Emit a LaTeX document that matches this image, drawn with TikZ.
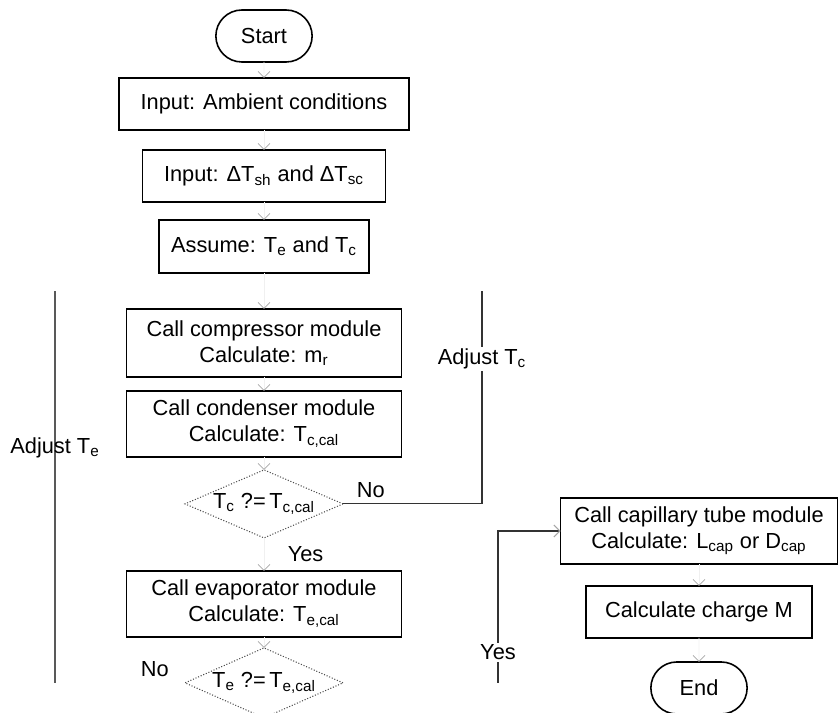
\documentclass[tikz,border=0pt]{standalone}
\usepackage{fontspec}
\setmainfont{Liberation Sans}
\usetikzlibrary{shapes,arrows.meta,positioning}
\tikzstyle{block} = [rectangle, draw, line width=1pt, align=center, outer sep=0pt,
    minimum width=5.5cm, minimum height=1.32cm, inner sep=2pt]
\tikzstyle{term} = [rounded rectangle, draw, line width=0.9pt, outer sep=0pt,
    minimum width=2.16cm, minimum height=1.04cm]
\tikzstyle{decision} = [diamond, draw=black!70, densely dotted, line width=0.6pt,
    aspect=2.3, inner sep=0pt, outer sep=0pt, minimum width=3.16cm, minimum height=1.36cm]
\tikzstyle{flow} = [draw=black!6, -{Straight Barb[color=black!35, length=1.2mm, width=2.4mm]}]
\tikzstyle{back} = [draw=black!80, line width=0.6pt]

\begin{document}
\begin{tikzpicture}[x=0.02cm, y=-0.02cm, node distance=0.3cm,
    font=\fontsize{12.4}{14.8}\selectfont]
    \useasboundingbox (0,0) rectangle (840,713);
    % Place nodes
    \node [term] (start) at (264,36) {Start};
    \node [block, below=0.32cm of start, minimum width=5.8cm, minimum height=1.04cm,
        line width=1.4pt] (ambient) {Input: Ambient conditions};
    \node [block, below=0.4cm of ambient, minimum width=4.86cm, minimum height=1.04cm]
        (deltas) {Input: ΔT\textsubscript{sh} and ΔT\textsubscript{sc}};
    \node [block, below=0.36cm of deltas, minimum width=4.2cm, minimum height=1.06cm]
        (assume) {Assume: T\textsubscript{e} and T\textsubscript{c}};
    \node [block, below=0.72cm of assume, minimum height=1.36cm] (compressor)
        {Call compressor module\\Calculate: m\textsubscript{r}};
    \node [block, below=0.28cm of compressor] (condenser)
        {Call condenser module\\Calculate: T\textsubscript{c,cal}};
    \node [decision, below=0.26cm of condenser] (checkc)
        {T\textsubscript{c} ?=\,T\textsubscript{c,cal}};
    \node [block, below=0.66cm of checkc] (evaporator)
        {Call evaporator module\\Calculate: T\textsubscript{e,cal}};
    \node [decision, below=0.22cm of evaporator, minimum height=1.4cm] (checke)
        {T\textsubscript{e} ?=\,T\textsubscript{e,cal}};
    \node [above left=0cm and 0.2cm of checke.west] (noe) {No};
    \node [block, minimum width=5.54cm] (capillary) at (699,531)
        {Call capillary tube module\\Calculate: L\textsubscript{cap} or D\textsubscript{cap}};
    \node [block, below=0.44cm of capillary, minimum width=4.52cm, minimum height=1.04cm]
        (charge) {Calculate charge M};
    \node [term, below=0.48cm of charge] (end) {End};
    % Loop corners and open ends
    \coordinate (etop) at (55,291);
    \coordinate (ctop) at (482,291);
    \coordinate (ebot) at (55,683);
    \coordinate (ybot) at (498,683);
    % Draw edges
    \path [flow] (start) -- (ambient);
    \path [flow] (ambient) -- (deltas);
    \path [flow] (deltas) -- (assume);
    \path [flow] (assume) -- (compressor);
    \path [flow] (compressor) -- (condenser);
    \path [flow] (condenser) -- (checkc);
    \path [flow] (checkc) -- node [right=10pt] {Yes} (evaporator);
    \path [flow] (evaporator) -- (checke);
    \path [flow] (capillary) -- (charge);
    \path [flow] (charge) -- (end);
    \path [back] (checkc.east) -| node [pos=0.1, above] {No}
        node [pos=0.84, fill=white, inner sep=1pt] {Adjust T\textsubscript{c}} (ctop);
    \path [back, draw=black!65] (ebot) -- node [pos=0.6] {Adjust T\textsubscript{e}} (etop);
    \path [back, -{Straight Barb[color=black!35, length=1.2mm, width=2.4mm]}] (ybot) |-
        node [pos=0.1, fill=white, inner sep=1pt] {Yes} (capillary.west);
\end{tikzpicture}
\end{document}
